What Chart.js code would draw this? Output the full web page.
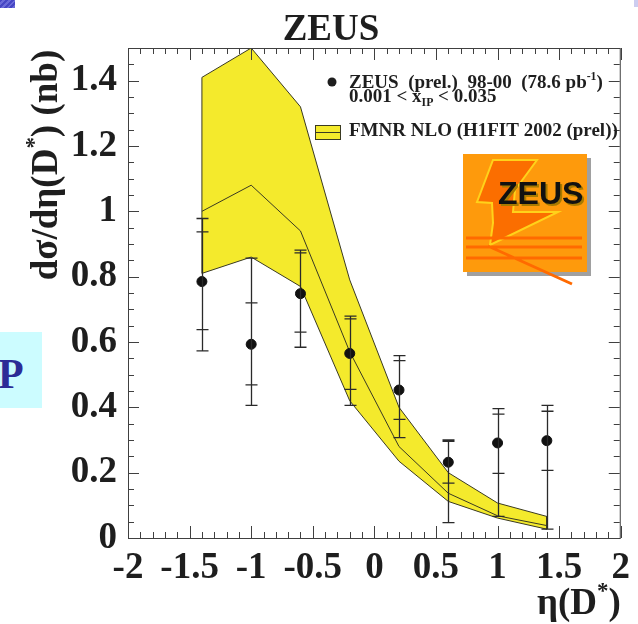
<!DOCTYPE html>
<html>
<head>
<meta charset="utf-8">
<script src="https://cdn.jsdelivr.net/npm/chart.js@4.4.0/dist/chart.umd.min.js"></script>
<style>
  html, body { margin: 0; padding: 0; background: #fff; }
  #wrap { position: relative; width: 638px; height: 624px; overflow: hidden; }
  #plot { position: absolute; left: 0; top: 0; }
  .corner-l { position: absolute; left: 0; top: 0; width: 15px; height: 8px;
    background: repeating-linear-gradient(135deg, #4646c4 0 2px, #6a6ad8 2px 4px); }
  .corner-r { position: absolute; right: 0; top: 0; width: 4px; height: 7px; background: #cdcdf0; }
  .tab { position: absolute; left: 0; top: 332px; width: 42px; height: 76px; background: #ccfcff; overflow: hidden; }
  .tab span { position: absolute; left: -2px; top: 21px; font: bold 42px/42px "Liberation Serif", serif; color: #2c2c96; }
</style>
</head>
<body>
<div id="wrap">
  <canvas id="plot" width="638" height="624"></canvas>
  <div class="corner-l"></div>
  <div class="corner-r"></div>
  <div class="tab"><span>P</span></div>
</div>
<script>
// eta(D*) bin centres
const etaBins = [-1.4, -1.0, -0.6, -0.2, 0.2, 0.6, 1.0, 1.4];

// ZEUS 98-00 measurement (nb) with stat (inner) and total (outer) error ranges
const zeusXsec = [0.785, 0.593, 0.748, 0.565, 0.453, 0.232, 0.291, 0.298];
const statLow  = [0.638, 0.469, 0.630, 0.455, 0.363, 0.168, 0.198, 0.207];
const statHigh = [0.937, 0.720, 0.873, 0.671, 0.543, 0.296, 0.379, 0.388];
const totLow   = [0.573, 0.406, 0.584, 0.406, 0.307, 0.047, 0.066, 0.027];
const totHigh  = [0.978, 0.857, 0.881, 0.679, 0.558, 0.300, 0.396, 0.406];

// FMNR NLO prediction band
const nloUpper   = [1.41, 1.50, 1.32, 0.79, 0.40, 0.200, 0.107, 0.066];
const nloCentral = [1.00, 1.08, 0.94, 0.57, 0.28, 0.137, 0.068, 0.038];
const nloLower   = [0.81, 0.86, 0.77, 0.42, 0.235, 0.112, 0.061, 0.027];

const xTickValues = [-2, -1.5, -1, -0.5, 0, 0.5, 1, 1.5, 2];
const yTickValues = [0, 0.2, 0.4, 0.6, 0.8, 1, 1.2, 1.4];

const SERIF = '"Liberation Serif", "Times New Roman", serif';
const INK = '#1e1e1e';
const BAND = '#f4ea2c';
const BAND_EDGE = '#3a3a22';

const pts = (xs, ys) => xs.map((v, i) => ({ x: v, y: ys[i] }));

// closed outline of the band: upper edge, down the right side, lower edge back
const bandOutline = pts(etaBins, nloUpper)
  .concat(pts(etaBins, nloLower).reverse())
  .concat([{ x: etaBins[0], y: nloUpper[0] }]);

// draws a string made of normal / superscript / subscript pieces
function drawRich(ctx, parts, x, y, size) {
  let cx = x;
  for (const p of parts) {
    const s = p.sup || p.sub ? size * 0.62 : size;
    ctx.font = 'bold ' + s + 'px ' + SERIF;
    const dy = p.sup ? -size * 0.42 : p.sub ? size * 0.22 : 0;
    ctx.fillText(p.t, cx, y + dy);
    cx += ctx.measureText(p.t).width;
  }
  return cx - x;
}
function richWidth(ctx, parts, size) {
  let w = 0;
  for (const p of parts) {
    const s = p.sup || p.sub ? size * 0.62 : size;
    ctx.font = 'bold ' + s + 'px ' + SERIF;
    w += ctx.measureText(p.t).width;
  }
  return w;
}

const errorBars = {
  id: 'errorBars',
  afterDatasetsDraw(chart) {
    const { ctx, scales: { x, y } } = chart;
    ctx.save();
    ctx.strokeStyle = '#2a2a2a';
    ctx.lineWidth = 1.3;
    ctx.beginPath();
    etaBins.forEach((e, i) => {
      const px = Math.round(x.getPixelForValue(e)) + 0.5;
      ctx.moveTo(px, y.getPixelForValue(totLow[i]));
      ctx.lineTo(px, y.getPixelForValue(totHigh[i]));
      [statLow[i], statHigh[i], totLow[i], totHigh[i]].forEach(v => {
        const py = y.getPixelForValue(v);
        ctx.moveTo(px - 6, py);
        ctx.lineTo(px + 6, py);
      });
    });
    ctx.stroke();
    ctx.restore();
  }
};

const frameAndTicks = {
  id: 'frameAndTicks',
  afterDraw(chart) {
    const { ctx, chartArea: a, scales: { x, y } } = chart;
    ctx.save();
    ctx.strokeStyle = '#404040';
    ctx.lineWidth = 1;
    ctx.strokeRect(a.left + 0.5, a.top + 0.5, a.right - a.left - 1, a.bottom - a.top);
    ctx.beginPath();
    for (let i = 0; i <= 40; i++) {
      const px = Math.round(x.getPixelForValue(-2 + i * 0.1)) + 0.5;
      const len = i % 5 === 0 ? 12 : 6;
      ctx.moveTo(px, a.bottom); ctx.lineTo(px, a.bottom - len);
      ctx.moveTo(px, a.top); ctx.lineTo(px, a.top + len);
    }
    for (let i = 0; i <= 30; i++) {
      const py = Math.round(y.getPixelForValue(i * 0.05)) + 0.5;
      const len = i % 4 === 0 ? 11 : 6;
      ctx.moveTo(a.left, py); ctx.lineTo(a.left + len, py);
      ctx.moveTo(a.right - 1, py); ctx.lineTo(a.right - 1 - len, py);
    }
    ctx.stroke();
    ctx.restore();
  }
};

const annotations = {
  id: 'annotations',
  afterDraw(chart) {
    const { ctx, chartArea: a } = chart;
    ctx.save();
    ctx.fillStyle = INK;
    ctx.textBaseline = 'alphabetic';
    ctx.textAlign = 'left';

    // title
    ctx.font = 'bold 37px ' + SERIF;
    ctx.textAlign = 'center';
    ctx.fillText('ZEUS', 331, 40);
    ctx.textAlign = 'left';

    // y axis title, rotated
    const yTitle = [{ t: 'dσ/dη(D' }, { t: '*', sup: true }, { t: ') (nb)' }];
    const yw = richWidth(ctx, yTitle, 37);
    ctx.save();
    ctx.translate(57, 165);
    ctx.rotate(-Math.PI / 2);
    drawRich(ctx, yTitle, -yw / 2, 0, 37);
    ctx.restore();

    // x axis title, right aligned
    const xTitle = [{ t: 'η(D' }, { t: '*', sup: true }, { t: ')' }];
    const xw = richWidth(ctx, xTitle, 37);
    drawRich(ctx, xTitle, a.right - xw, 614, 37);

    // legend
    ctx.beginPath();
    ctx.arc(332, 82, 4.5, 0, Math.PI * 2);
    ctx.fill();
    drawRich(ctx, [{ t: 'ZEUS  (prel.)  98-00  (78.6 pb' }, { t: '-1', sup: true }, { t: ')' }], 349, 88, 19);
    drawRich(ctx, [{ t: '0.001 < x' }, { t: 'IP', sub: true }, { t: ' < 0.035' }], 349, 102, 19);
    ctx.fillStyle = BAND;
    ctx.fillRect(315, 125, 25, 14);
    ctx.strokeStyle = BAND_EDGE;
    ctx.lineWidth = 1;
    ctx.strokeRect(315.5, 125.5, 25, 14);
    ctx.beginPath();
    ctx.moveTo(315, 132.5); ctx.lineTo(341, 132.5);
    ctx.stroke();
    ctx.fillStyle = INK;
    drawRich(ctx, [{ t: 'FMNR NLO (H1FIT 2002 (prel))' }], 349, 136, 19);

    // experiment logo
    ctx.fillStyle = '#a0a0a0';
    ctx.fillRect(467, 158, 124, 118);
    ctx.fillStyle = '#fe9a0c';
    ctx.fillRect(463, 154, 124, 118);
    ctx.fillStyle = '#fb6e00';
    ctx.strokeStyle = '#ffd21a';
    ctx.lineWidth = 2;
    ctx.beginPath();
    [[493, 160], [537, 160], [515, 190], [513, 212], [558, 212], [490, 245],
     [493, 223], [492, 203], [477, 202]].forEach((p, i) => i ? ctx.lineTo(p[0], p[1]) : ctx.moveTo(p[0], p[1]));
    ctx.closePath();
    ctx.fill();
    ctx.stroke();
    ctx.strokeStyle = '#ff6a00';
    ctx.lineWidth = 3;
    ctx.beginPath();
    [238, 247, 258].forEach(yy => { ctx.moveTo(466, yy); ctx.lineTo(582, yy); });
    ctx.moveTo(488, 246); ctx.lineTo(572, 284);
    ctx.stroke();
    ctx.font = 'bold 32px "Liberation Sans", Arial, sans-serif';
    ctx.fillStyle = '#a87a00';
    ctx.fillText('ZEUS', 500, 206);
    ctx.fillStyle = '#111';
    ctx.fillText('ZEUS', 498, 204);
    ctx.restore();
  }
};

new Chart(document.getElementById('plot').getContext('2d'), {
  type: 'scatter',
  data: {
    datasets: [
      {
        label: 'ZEUS (prel.) 98-00',
        data: pts(etaBins, zeusXsec),
        pointRadius: 5,
        pointBackgroundColor: '#111',
        pointBorderColor: '#111',
        showLine: false,
        order: 0
      },
      {
        label: 'FMNR NLO central',
        data: pts(etaBins, nloCentral),
        showLine: true,
        borderColor: BAND_EDGE,
        borderWidth: 1,
        pointRadius: 0,
        tension: 0,
        order: 1
      },
      {
        label: 'FMNR NLO band',
        data: bandOutline,
        showLine: true,
        fill: 'shape',
        backgroundColor: BAND,
        borderColor: BAND_EDGE,
        borderWidth: 1,
        pointRadius: 0,
        tension: 0,
        order: 2
      }
    ]
  },
  options: {
    responsive: false,
    animation: false,
    layout: { padding: { top: 48, right: 17, left: 0, bottom: 0 } },
    plugins: {
      legend: { display: false },
      tooltip: { enabled: false },
      title: { display: false }
    },
    scales: {
      x: {
        type: 'linear',
        min: -2,
        max: 2,
        afterBuildTicks: s => { s.ticks = xTickValues.map(v => ({ value: v })); },
        afterFit: s => { s.height = 86; },
        grid: { display: false, drawTicks: false },
        border: { display: false },
        ticks: {
          autoSkip: false,
          maxRotation: 0,
          padding: 8,
          color: INK,
          font: { family: SERIF, weight: 'bold', size: 37 },
          callback: v => String(v)
        }
      },
      y: {
        type: 'linear',
        min: 0,
        max: 1.5,
        afterBuildTicks: s => { s.ticks = yTickValues.map(v => ({ value: v })); },
        afterFit: s => { s.width = 128; },
        grid: { display: false, drawTicks: false },
        border: { display: false },
        ticks: {
          padding: 11,
          color: INK,
          font: { family: SERIF, weight: 'bold', size: 37 },
          callback: v => String(v)
        }
      }
    }
  },
  plugins: [errorBars, frameAndTicks, annotations]
});
</script>
</body>
</html>
